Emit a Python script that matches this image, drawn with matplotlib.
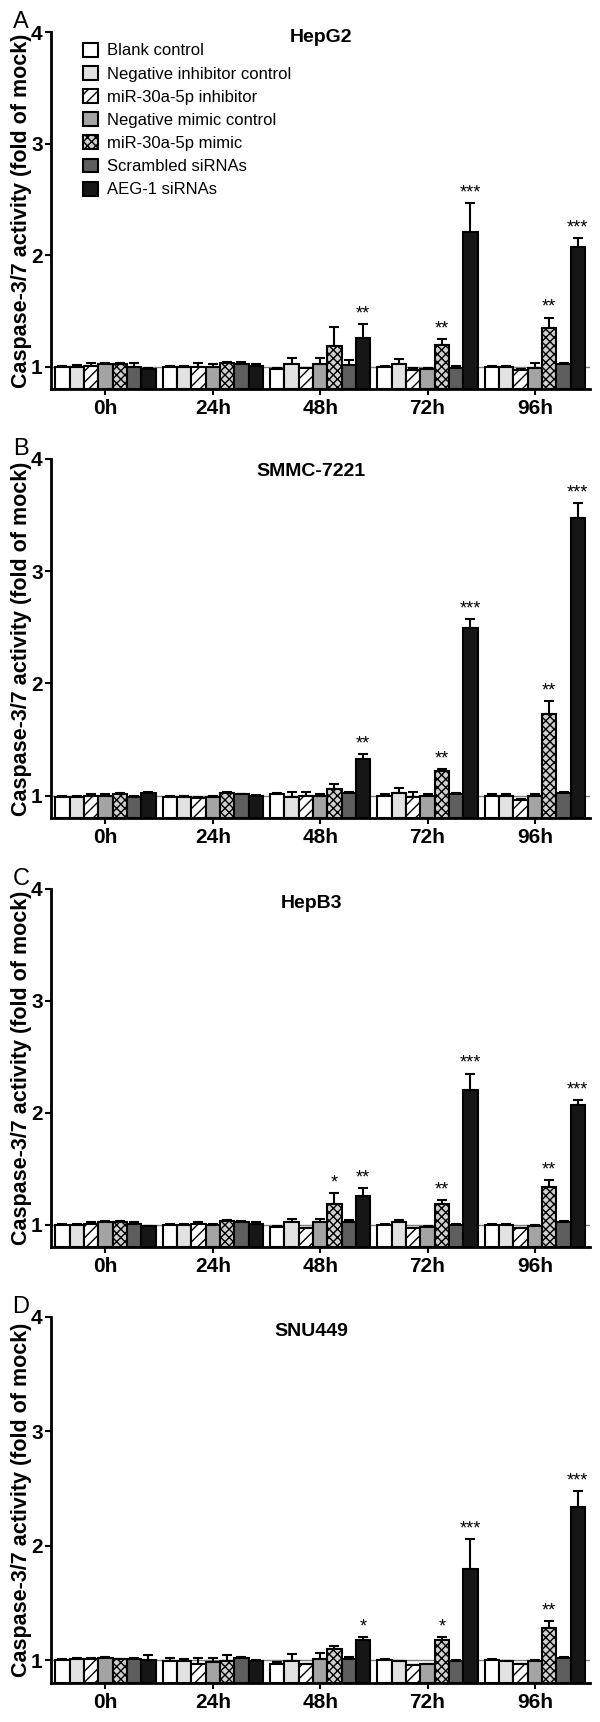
import numpy as np
import matplotlib
matplotlib.use('Agg')
from matplotlib import pyplot as plt

# time points and treatments
times = ['0h', '24h', '48h', '72h', '96h']
treatments = ['Blank control', 'Negative inhibitor control', 'miR-30a-5p inhibitor',
              'Negative mimic control', 'miR-30a-5p mimic', 'Scrambled siRNAs', 'AEG-1 siRNAs']
face = ['white', '#e2e2e2', 'white', '#a4a4a4', '#d0d0d0', '#5e5e5e', '#161616']
hatch = [None, None, '///', None, 'xxxx', None, None]

cell_lines = ['HepG2', 'SMMC-7221', 'HepB3', 'SNU449']
letters = ['A', 'B', 'C', 'D']

# means (rows = treatments, cols = time points)
hepg2_mean = [[1.00, 1.00, 0.98, 1.00, 1.00],
              [1.00, 1.00, 1.02, 1.02, 1.00],
              [1.01, 1.00, 0.985, 0.97, 0.97],
              [1.02, 1.00, 1.02, 0.98, 0.99],
              [1.02, 1.03, 1.185, 1.19, 1.345],
              [1.00, 1.02, 1.015, 0.99, 1.02],
              [0.98, 1.01, 1.26, 2.21, 2.07]]
hepg2_err = [[.01, .01, .01, .01, .01],
             [.015, .01, .055, .045, .01],
             [.02, .03, .0, .02, .01],
             [.01, .02, .055, .01, .04],
             [.01, .01, .175, .055, .095],
             [.03, .02, .045, .02, .01],
             [.01, .01, .12, .26, .08]]

smmc_mean = [[0.99, 0.99, 1.01, 1.00, 1.00],
             [0.99, 0.99, 0.99, 1.02, 1.00],
             [1.00, 0.98, 1.00, 0.99, 0.96],
             [1.00, 0.99, 1.00, 1.00, 1.00],
             [1.01, 1.02, 1.06, 1.22, 1.73],
             [0.99, 1.01, 1.02, 1.01, 1.02],
             [1.02, 1.00, 1.33, 2.49, 3.47]]
smmc_err = [[.005, .005, .01, .01, .01],
            [.005, .005, .045, .045, .01],
            [.01, .005, .035, .045, .01],
            [.01, .005, .01, .01, .01],
            [.01, .01, .04, .015, .11],
            [.005, .005, .01, .01, .01],
            [.01, .005, .04, .08, .14]]

hepb3_mean = [[1.00, 1.00, 0.98, 1.00, 1.00],
              [1.00, 1.00, 1.02, 1.02, 1.00],
              [1.01, 1.01, 0.97, 0.97, 0.97],
              [1.02, 1.00, 1.02, 0.98, 0.99],
              [1.02, 1.03, 1.185, 1.185, 1.34],
              [1.01, 1.02, 1.02, 1.00, 1.02],
              [0.99, 1.01, 1.26, 2.20, 2.065]]
hepb3_err = [[.01, .01, .01, .01, .01],
             [.01, .01, .03, .025, .01],
             [.01, .01, .0, .0, .0],
             [.01, .01, .03, .01, .01],
             [.01, .01, .10, .035, .055],
             [.01, .01, .02, .01, .01],
             [.0, .01, .065, .15, .045]]

snu449_mean = [[1.00, 0.99, 0.97, 1.00, 1.00],
               [1.01, 0.99, 0.99, 0.99, 0.99],
               [1.01, 0.97, 0.97, 0.96, 0.97],
               [1.02, 0.98, 1.01, 0.97, 0.99],
               [1.01, 0.99, 1.10, 1.18, 1.285],
               [1.01, 1.02, 1.01, 0.99, 1.02],
               [1.00, 0.99, 1.18, 1.80, 2.34]]
snu449_err = [[.01, .03, .01, .01, .01],
              [.01, .02, .06, .0, .0],
              [.01, .05, .0, .0, .0],
              [.01, .04, .05, .0, .01],
              [.0, .055, .02, .02, .055],
              [.01, .01, .02, .01, .01],
              [.045, .01, .02, .255, .14]]

# significance marks: (treatment, time, text)
hepg2_sig = [(6, 2, '**'), (4, 3, '**'), (6, 3, '***'), (4, 4, '**'), (6, 4, '***')]
smmc_sig = [(6, 2, '**'), (4, 3, '**'), (6, 3, '***'), (4, 4, '**'), (6, 4, '***')]
hepb3_sig = [(4, 2, '*'), (6, 2, '**'), (4, 3, '**'), (6, 3, '***'), (4, 4, '**'), (6, 4, '***')]
snu449_sig = [(6, 2, '*'), (4, 3, '*'), (6, 3, '***'), (4, 4, '**'), (6, 4, '***')]

means = [hepg2_mean, smmc_mean, hepb3_mean, snu449_mean]
errs = [hepg2_err, smmc_err, hepb3_err, snu449_err]
sigs = [hepg2_sig, smmc_sig, hepb3_sig, snu449_sig]

YMIN, YMAX = 0.8, 4.0
group_step = 7.5

plt.rcParams['hatch.linewidth'] = 1.0
narrow = ['Liberation Sans Narrow', 'Liberation Sans', 'DejaVu Sans']
arial = ['Liberation Sans', 'DejaVu Sans']

W, H = 600, 1722
fig = plt.figure(figsize=(W / 100, H / 100), dpi=100)

# axes boxes in pixels: (top, bottom), title placement
boxes = [(32, 389), (459, 818), (889, 1247), (1317, 1683)]
title_drop = [5, 13, 14, 15]
title_x = [321, 311, 311, 311]
left_px, right_px = 51, 590

for p in range(4):
    top, bot = boxes[p]
    ax = fig.add_axes([left_px / W, 1 - bot / H, (right_px - left_px) / W, (bot - top) / H])
    m = np.array(means[p])
    e = np.array(errs[p])
    ax.axhline(1.0, color='#808080', lw=1.0, zorder=0)
    for k in range(7):
        xs = np.arange(5) * group_step + k + 0.5
        ax.bar(xs, m[k] - YMIN, bottom=YMIN, width=1.0, color=face[k], hatch=hatch[k],
               edgecolor='black', linewidth=1.5, label=treatments[k], zorder=2)
        ax.errorbar(xs, m[k], yerr=[np.zeros(5), e[k]], fmt='none', ecolor='black',
                    elinewidth=1.5, capsize=3.5, capthick=1.5, zorder=1)
    for k, t, s in sigs[p]:
        ax.text(t * group_step + k + 0.5, m[k][t] + e[k][t] + 0.015, s, ha='center',
                va='bottom', fontsize=13, family=arial)
    ax.set_xlim(-0.3, 4 * group_step + 7.35)
    ax.set_ylim(YMIN, YMAX)
    ax.set_yticks([1, 2, 3, 4])
    ax.set_yticklabels(['1', '2', '3', '4'], fontsize=15, fontweight='bold', family=narrow)
    ax.set_xticks(np.arange(5) * group_step + 3.5)
    ax.set_xticklabels(times, fontsize=15, fontweight='bold', family=narrow)
    ax.tick_params(axis='x', length=4, width=1.5, pad=3)
    ax.tick_params(axis='y', length=4, width=1.5, pad=2)
    for sp in ['top', 'right']:
        ax.spines[sp].set_visible(False)
    for sp in ['left', 'bottom']:
        ax.spines[sp].set_linewidth(2)
    ax.set_ylabel('Caspase-3/7 activity (fold of mock)', fontsize=15.5, fontweight='bold',
                  family=arial)
    ax.yaxis.set_label_coords(-0.035, 0.5)
    fig.text(title_x[p] / W, 1 - (top + title_drop[p]) / H, cell_lines[p], ha='center',
             va='center', fontsize=14, fontweight='bold', family=narrow)
    fig.text(21 / W, 1 - (top - 10) / H, letters[p], ha='center', va='center', fontsize=17,
             family=arial)
    if p == 0:
        ax.legend(loc='upper left', bbox_to_anchor=(0.06, 0.97), frameon=False,
                  prop={'family': arial, 'size': 12}, handlelength=0.85, handleheight=0.9,
                  handletextpad=0.55, labelspacing=0.45, borderpad=0, borderaxespad=0)

fig.savefig('out.png', dpi=100)
